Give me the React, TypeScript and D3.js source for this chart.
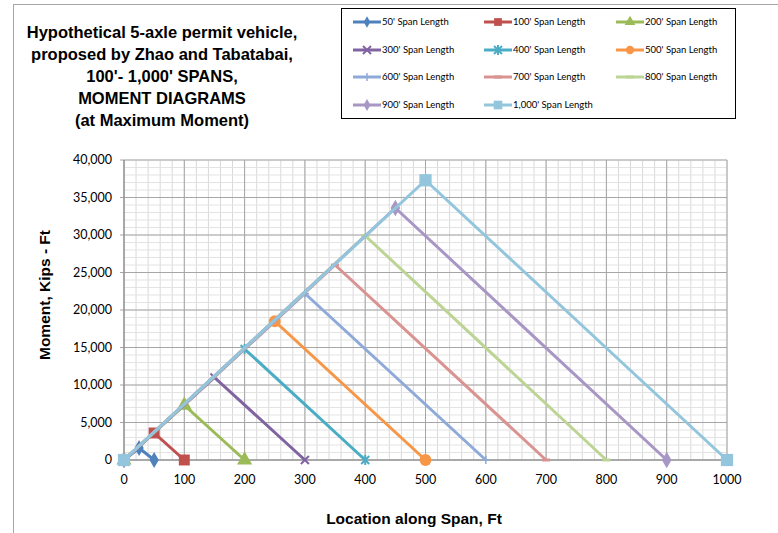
import { scaleLinear, range, line, symbol, symbolDiamond, symbolSquare, symbolTriangle, symbolCircle } from "d3";

// span lengths (ft) and the peak moment of each diagram (kip-ft)
const spans = [50, 100, 200, 300, 400, 500, 600, 700, 800, 900, 1000];
const peakLocations = [25, 50, 100, 150, 200, 250, 300, 350, 400, 450, 500];
const peakMoments = [1600, 3600, 7300, 11000, 14800, 18500, 22200, 26000, 29900, 33600, 37300];
const seriesNames = [
  "50' Span Length",
  "100' Span Length",
  "200' Span Length",
  "300' Span Length",
  "400' Span Length",
  "500' Span Length",
  "600' Span Length",
  "700' Span Length",
  "800' Span Length",
  "900' Span Length",
  "1,000' Span Length",
];
const colors = ["#4f81bd", "#c0504d", "#9bbb59", "#8064a2", "#4bacc6", "#f79646", "#8faad8", "#d99391", "#bcd494", "#a896c4", "#93c6dc"];
const markers = ["diamond", "square", "triangle", "x", "star", "circle", "plus", "dash", "dash", "diamond", "square"];
const markerSizes = [75, 120, 100, 50, 60, 110, 60, 40, 40, 80, 150];

const xTicks = [0, 100, 200, 300, 400, 500, 600, 700, 800, 900, 1000];
const yTicks = [0, 5000, 10000, 15000, 20000, 25000, 30000, 35000, 40000];

const titleLines = [
  "Hypothetical 5-axle permit vehicle,",
  "proposed by Zhao and Tabatabai,",
  "100'- 1,000' SPANS,",
  "MOMENT DIAGRAMS",
  "(at Maximum Moment)",
];

const width = 778;
const height = 533;
const plot = { left: 124, right: 727, top: 160, bottom: 460 };
const font = "Lato, 'Liberation Sans', sans-serif";
const titleFont = "'Liberation Sans', Arial, sans-serif";

const Marker = ({ kind, size, color, x, y }: { kind: string; size: number; color: string; x: number; y: number }) => {
  const t = `translate(${x},${y})`;
  if (kind === "dash") {
    return <line transform={t} x1={-4} x2={4} stroke={color} strokeWidth={3} />;
  }
  if (kind === "plus") {
    return (
      <g transform={t} stroke={color} strokeWidth={1.5}>
        <line x1={-4} x2={4} />
        <line y1={-4} y2={4} />
      </g>
    );
  }
  if (kind === "x") {
    return (
      <g transform={t} stroke={color} strokeWidth={2}>
        <line x1={-4} y1={-4} x2={4} y2={4} />
        <line x1={-4} y1={4} x2={4} y2={-4} />
      </g>
    );
  }
  if (kind === "star") {
    return (
      <g transform={t} stroke={color} strokeWidth={2}>
        <line x1={-4} y1={-4} x2={4} y2={4} />
        <line x1={-4} y1={4} x2={4} y2={-4} />
        <line y1={-5} y2={5} />
      </g>
    );
  }
  const types: Record<string, any> = {
    diamond: symbolDiamond,
    square: symbolSquare,
    triangle: symbolTriangle,
    circle: symbolCircle,
  };
  return <path transform={t} d={symbol(types[kind], size)() ?? ""} fill={color} />;
};

export default function App() {
  const x = scaleLinear().domain([0, 1000]).range([plot.left, plot.right]);
  const y = scaleLinear().domain([0, 40000]).range([plot.bottom, plot.top]);

  const minorX = range(0, 1001, 20);
  const minorY = range(0, 40001, 1000);

  const path = line<[number, number]>()
    .x((d) => x(d[0]))
    .y((d) => y(d[1]));

  const series = spans.map((L, i) => {
    const pts: [number, number][] = [
      [0, 0],
      [peakLocations[i], peakMoments[i]],
      [L, 0],
    ];
    return { pts, color: colors[i], marker: markers[i], size: markerSizes[i], name: seriesNames[i] };
  });

  const legendCols = [353, 484, 616];
  const legendRows = [22, 50, 77, 105];

  return (
    <svg
      width={width}
      height={height}
      style={{ position: "absolute", left: 0, top: 0, background: "#fff" }}
      fontFamily={font}
    >
      {/* chart frame (cropped) */}
      <line x1={13} y1={4.5} x2={778} y2={4.5} stroke="#a6a6a6" />
      <line x1={13.5} y1={4} x2={13.5} y2={533} stroke="#a6a6a6" />

      {/* title */}
      {titleLines.map((t, i) => (
        <text key={t} x={162} y={37.5 + i * 22.2} textAnchor="middle" fontSize={16.5} fontWeight="bold" fontFamily={titleFont} fill="#000">
          {t}
        </text>
      ))}

      {/* minor grid */}
      {minorX.map((v) => (
        <line key={"mx" + v} x1={x(v)} x2={x(v)} y1={plot.top} y2={plot.bottom} stroke="#d9d9d9" />
      ))}
      {minorY.map((v) => (
        <line key={"my" + v} x1={plot.left} x2={plot.right} y1={y(v)} y2={y(v)} stroke="#e3e3e3" />
      ))}
      {/* major grid */}
      {xTicks.map((v) => (
        <line key={"Mx" + v} x1={x(v)} x2={x(v)} y1={plot.top} y2={plot.bottom} stroke="#a6a6a6" />
      ))}
      {yTicks.map((v) => (
        <line key={"My" + v} x1={plot.left - 4} x2={plot.right} y1={y(v)} y2={y(v)} stroke="#a6a6a6" />
      ))}
      <line x1={plot.left} x2={plot.left} y1={plot.top} y2={plot.bottom} stroke="#868686" />
      <line x1={plot.left} x2={plot.right} y1={plot.bottom} y2={plot.bottom} stroke="#868686" />

      {/* tick labels */}
      {yTicks.map((v) => (
        <text key={"yl" + v} x={112} y={y(v)} dy="0.35em" textAnchor="end" fontSize={12.5} fill="#000">
          {v.toLocaleString("en-US")}
        </text>
      ))}
      {xTicks.map((v) => (
        <text key={"xl" + v} x={x(v)} y={484} textAnchor="middle" fontSize={12.5} fill="#000">
          {v}
        </text>
      ))}

      {/* axis titles */}
      <text
        transform="translate(50,295) rotate(-90)"
        textAnchor="middle"
        fontSize={15.5}
        fontWeight="bold"
        fontFamily={titleFont}
        fill="#000"
      >
        Moment, Kips - Ft
      </text>
      <text x={414} y={524} textAnchor="middle" fontSize={15.5} fontWeight="bold" fontFamily={titleFont} fill="#000">
        Location along Span, Ft
      </text>

      {/* series */}
      {series.map((s) => (
        <g key={s.name}>
          <path d={path(s.pts) ?? ""} fill="none" stroke={s.color} strokeWidth={3} />
          {s.pts.map((p, j) => (
            <Marker key={j} kind={s.marker} size={s.size} color={s.color} x={x(p[0])} y={y(p[1])} />
          ))}
        </g>
      ))}

      {/* legend */}
      <rect x={341.5} y={8.5} width={394} height={110} fill="#fff" stroke="#000" />
      {series.map((s, i) => {
        const lx = legendCols[i % 3];
        const ly = legendRows[Math.floor(i / 3)];
        return (
          <g key={"lg" + s.name}>
            <line x1={lx} x2={lx + 28} y1={ly} y2={ly} stroke={s.color} strokeWidth={3} />
            <Marker kind={s.marker} size={s.size * 0.5} color={s.color} x={lx + 14} y={ly} />
            <text x={lx + 29} y={ly} dy="0.35em" fontSize={9.5} fill="#000">
              {s.name}
            </text>
          </g>
        );
      })}
    </svg>
  );
}
